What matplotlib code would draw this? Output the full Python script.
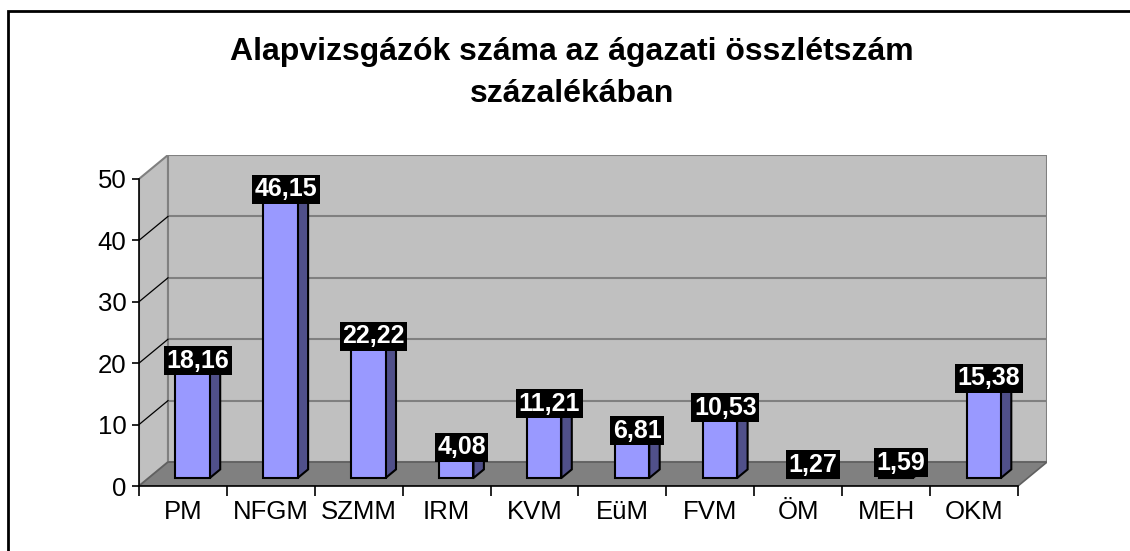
import numpy as np
import matplotlib
matplotlib.use("Agg")
import matplotlib.pyplot as plt
from matplotlib.patches import Polygon, Rectangle

plt.rcParams['font.family'] = ['Liberation Sans', 'DejaVu Sans']

# adatok
categories = ["PM", "NFGM", "SZMM", "IRM", "KVM", "EüM", "FVM", "ÖM", "MEH", "OKM"]
values = [18.16, 46.15, 22.22, 4.08, 11.21, 6.81, 10.53, 1.27, 1.59, 15.38]
y_ticks = [0, 10, 20, 30, 40, 50]
title_1 = "Alapvizsgázók száma az ágazati összlétszám"
title_2 = "százalékában"

# 3D hatás: mélység eltolás (x kategória egységben, y értékben)
D = 0.33
H = 3.9
bar_w = 0.39
d0 = 1 / 3      # oszlop elülső lapjának mélysége
dd = 0.36       # oszlop mélysége
n = len(categories)

fig = plt.figure(figsize=(11.3, 5.51), dpi=100)
W, Hpx = 1130, 551
ax = fig.add_axes([139 / W, (Hpx - 486) / Hpx, (1047 - 139) / W, (486 - 155) / Hpx])
ax.set_xlim(-0.5, n - 0.5 + D)
ax.set_ylim(0, y_ticks[-1] + H)
ax.patch.set_visible(False)

x0, x1 = -0.5, n - 0.5
top = y_ticks[-1]

# falak és padló
ax.add_patch(Polygon([(x0, 0), (x0, top), (x0 + D, top + H), (x0 + D, H)],
                     closed=True, fc="#C0C0C0", ec="#808080", lw=1.5, zorder=1))
ax.add_patch(Polygon([(x0 + D, H), (x1 + D, H), (x1 + D, top + H), (x0 + D, top + H)],
                     closed=True, fc="#C0C0C0", ec="#808080", lw=1.5, zorder=1))
for v in y_ticks[1:-1]:
    ax.plot([x0 + D, x1 + D], [v + H, v + H], color="#808080", lw=1.5, zorder=2)
    ax.plot([x0, x0 + D], [v, v + H], color="black", lw=0.9, zorder=2)
ax.add_patch(Polygon([(x0, 0), (x1, 0), (x1 + D, H), (x0 + D, H)],
                     closed=True, fc="#808080", ec="#606060", lw=1.2, zorder=3))

# oszlopok
for i, v in enumerate(values):
    xl = i - bar_w / 2 + d0 * D
    xr = i + bar_w / 2 + d0 * D
    yb = d0 * H
    front = [(xl, yb), (xr, yb), (xr, yb + v), (xl, yb + v)]
    side = [(xr, yb), (xr + dd * D, yb + dd * H), (xr + dd * D, yb + dd * H + v), (xr, yb + v)]
    topf = [(xl, yb + v), (xr, yb + v), (xr + dd * D, yb + dd * H + v), (xl + dd * D, yb + dd * H + v)]
    ax.add_patch(Polygon(side, closed=True, fc="#50508A", ec="black", lw=1.5, zorder=5))
    ax.add_patch(Polygon(topf, closed=True, fc="#7A7ACC", ec="black", lw=1.5, zorder=5))
    ax.add_patch(Polygon(front, closed=True, fc="#9999FF", ec="black", lw=1.5, zorder=6))
    lbl = f"{v:.2f}".replace(".", ",")
    ax.text(i + (d0 + dd / 2) * D, v + (d0 + dd / 2) * H + 0.2, lbl,
            ha="center", va="center", color="white", fontsize=18, fontweight="bold",
            bbox=dict(boxstyle="square,pad=0.1", fc="black", ec="none"), zorder=10)

# tengelyek
for s in ["top", "right"]:
    ax.spines[s].set_visible(False)
ax.spines["left"].set_bounds(0, top)
ax.spines["bottom"].set_bounds(x0, x1)
ax.spines["left"].set_zorder(4)
ax.spines["bottom"].set_zorder(4)
ax.spines["left"].set_linewidth(1.2)
ax.spines["bottom"].set_linewidth(1.2)
ax.set_yticks(y_ticks)
ax.tick_params(axis="y", length=5, width=1.2, labelsize=18.5, pad=4)
ax.set_xticks(np.arange(n + 1) - 0.5)
ax.set_xticklabels([])
ax.tick_params(axis="x", which="major", length=7, width=1.2)
ax.set_xticks(np.arange(n), minor=True)
ax.set_xticklabels(categories, minor=True)
ax.tick_params(axis="x", which="minor", length=0, labelsize=18.5, pad=10)

# cím
fig.text(572 / W, (Hpx - 60) / Hpx, title_1, ha="center", va="baseline",
         fontsize=23, fontweight="bold")
fig.text(572 / W, (Hpx - 102) / Hpx, title_2, ha="center", va="baseline",
         fontsize=23, fontweight="bold")

# keret
fig.patches.append(Rectangle((8 / W, -0.1), 1.2, (Hpx - 11) / Hpx + 0.1,
                             transform=fig.transFigure, fill=False, ec="black", lw=2))

fig.savefig("out.png", dpi=100)
